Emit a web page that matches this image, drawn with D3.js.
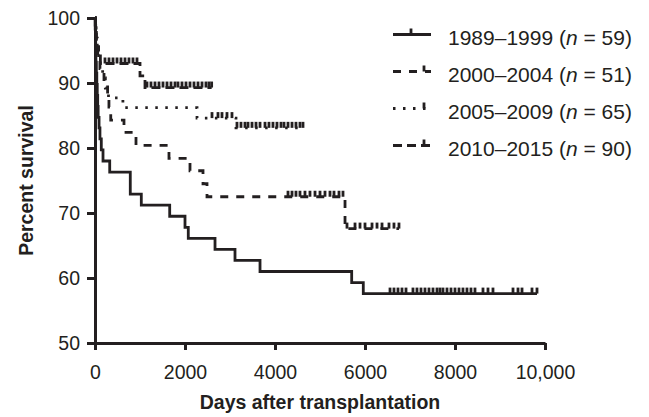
<!DOCTYPE html>
<html>
<head>
<meta charset="utf-8">
<script src="https://cdn.jsdelivr.net/npm/d3@7"></script>
<style>
  body { margin: 0; background: #fff; }
  text { font-family: "Liberation Sans", Arial, Helvetica, sans-serif; fill: #231f20; }
</style>
</head>
<body>
<div id="chart"></div>
<script>
// groups in legend order
const groups = ["1989\u20131999", "2000\u20132004", "2005\u20132009", "2010\u20132015"];
const nPatients = [59, 51, 65, 90];

// kaplan-meier steps (days, percent survival after the step)
const times1 = [0, 5, 10, 15, 20, 30, 40, 50, 60, 70, 90, 110, 140, 178, 327, 784, 1029, 1660, 2000, 2073, 2667, 3111, 3667, 5704, 5962, 9822];
const surv1 = [100, 98.3, 96.6, 94.9, 93.2, 91.5, 89.8, 88.1, 86.4, 84.7, 83.1, 81.4, 79.7, 78.0, 76.3, 72.9, 71.2, 69.5, 67.8, 66.1, 64.4, 62.7, 61.0, 59.3, 57.6, 57.6];

const times2 = [0, 10, 30, 60, 110, 200, 280, 310, 350, 644, 911, 1644, 2111, 2400, 2489, 5556, 6755];
const surv2 = [100, 98.0, 96.1, 94.1, 92.2, 90.2, 88.2, 86.3, 84.3, 82.4, 80.4, 78.4, 76.5, 74.5, 72.5, 67.6, 67.6];

const times3 = [0, 10, 25, 50, 80, 120, 170, 230, 300, 620, 2267, 3133, 4622];
const surv3 = [100, 98.5, 96.9, 95.4, 93.8, 92.3, 90.8, 89.2, 87.7, 86.2, 84.6, 83.1, 83.1];

const times4 = [0, 5, 15, 30, 50, 80, 120, 1000, 1111, 2592];
const surv4 = [100, 98.9, 97.8, 96.7, 95.6, 94.4, 93.0, 91.1, 89.3, 89.3];

// censored observations (days)
const cens1 = [6556, 6644, 6733, 6822, 6911, 7066, 7155, 7244, 7333, 7422, 7511, 7600, 7666, 7733, 7822, 7911, 8000, 8089, 8177, 8266, 8355, 8444, 8622, 8733, 8844, 9289, 9400, 9489, 9711, 9822];
const cens2 = [4289, 4378, 4466, 4555, 4666, 4777, 4889, 5000, 5111, 5222, 5311, 5422, 5511, 5600, 5778, 5889, 6000, 6156, 6267, 6378, 6533, 6644, 6755];
const cens3 = [2600, 2733, 2822, 2933, 3044, 3155, 3244, 3333, 3400, 3489, 3578, 3667, 3778, 3866, 3955, 4044, 4133, 4200, 4289, 4378, 4466, 4555, 4622];
const cens4 = [222, 311, 400, 489, 578, 667, 755, 844, 933, 1155, 1244, 1333, 1422, 1511, 1600, 1689, 1778, 1844, 1933, 2022, 2111, 2200, 2289, 2378, 2466, 2533, 2592];

// axis ticks
const xTicks = [0, 2000, 4000, 6000, 8000, 10000];
const yTicks = [50, 60, 70, 80, 90, 100];

const series = [
    {times: times1, surv: surv1, cens: cens1, dash: null},
    {times: times2, surv: surv2, cens: cens2, dash: "8,8"},
    {times: times3, surv: surv3, cens: cens3, dash: "2.5,7.5"},
    {times: times4, surv: surv4, cens: cens4, dash: "9,5"}
];

const width = 649, height = 417;
const margin = {top: 18, right: 104, bottom: 74, left: 95};
const ink = "#231f20";

const svg = d3.select("#chart").append("svg")
    .attr("width", width)
    .attr("height", height);

const x = d3.scaleLinear().domain([0, 10000]).range([margin.left, width - margin.right]);
const y = d3.scaleLinear().domain([50, 100]).range([height - margin.bottom, margin.top]);

//axes
const xAxis = d3.axisBottom(x)
    .tickValues(xTicks)
    .tickFormat(d => d >= 10000 ? d3.format(",")(d) : d)
    .tickSize(7)
    .tickSizeOuter(0)
    .tickPadding(15);

const yAxis = d3.axisLeft(y)
    .tickValues(yTicks)
    .tickSize(8)
    .tickSizeOuter(0)
    .tickPadding(7);

const xAxisG = svg.append("g")
    .attr("transform", `translate(0,${y(50)})`)
    .call(xAxis);
const yAxisG = svg.append("g")
    .attr("transform", `translate(${x(0)},0)`)
    .call(yAxis);

[xAxisG, yAxisG].forEach(g => {
    g.selectAll("path, line").attr("stroke", ink).attr("stroke-width", 3);
    g.selectAll("text").style("font-size", "19.5px").attr("fill", ink);
});

// axis titles
svg.append("text")
    .attr("transform", `translate(33,${(y(50) + y(100)) / 2}) rotate(-90)`)
    .attr("text-anchor", "middle")
    .style("font-size", "19.5px")
    .style("font-weight", "bold")
    .text("Percent survival");

svg.append("text")
    .attr("x", (x(0) + x(10000)) / 2)
    .attr("y", 409)
    .attr("text-anchor", "middle")
    .style("font-size", "19.5px")
    .style("font-weight", "bold")
    .text("Days after transplantation");

// step curves
const line = d3.line()
    .x(d => x(d[0]))
    .y(d => y(d[1]))
    .curve(d3.curveStepAfter);

function survAt(s, t) {
    const i = d3.bisectRight(s.times, t) - 1;
    return s.surv[Math.max(0, i)];
}

series.forEach(s => {
    const pts = s.times.map((t, i) => [t, s.surv[i]]);
    svg.append("path")
        .datum(pts)
        .attr("fill", "none")
        .attr("stroke", ink)
        .attr("stroke-width", 2.8)
        .attr("stroke-dasharray", s.dash)
        .attr("d", line);

    // censor ticks
    svg.append("g")
        .selectAll("line")
        .data(s.cens)
        .enter()
        .append("line")
        .attr("x1", d => x(d))
        .attr("x2", d => x(d))
        .attr("y1", d => y(survAt(s, d)))
        .attr("y2", d => y(survAt(s, d)) - 6)
        .attr("stroke", ink)
        .attr("stroke-width", 2.8);
});

// legend
const legend = svg.append("g");
groups.forEach((g, i) => {
    const base = 45 + i * 37;
    const ly = base - 10.5;
    legend.append("line")
        .attr("x1", 393).attr("x2", 431)
        .attr("y1", ly).attr("y2", ly)
        .attr("stroke", ink)
        .attr("stroke-width", 2.8)
        .attr("stroke-dasharray", series[i].dash);
    legend.append("line")
        .attr("x1", i === 0 ? 411 : 424).attr("x2", i === 0 ? 411 : 424)
        .attr("y1", ly).attr("y2", ly - 6)
        .attr("stroke", ink)
        .attr("stroke-width", 2.8);
    const t = legend.append("text")
        .attr("x", 448)
        .attr("y", base)
        .style("font-size", "21px");
    t.append("tspan").text(g + " (");
    t.append("tspan").style("font-style", "italic").text("n");
    t.append("tspan").text(" = " + nPatients[i] + ")");
});
</script>
</body>
</html>
